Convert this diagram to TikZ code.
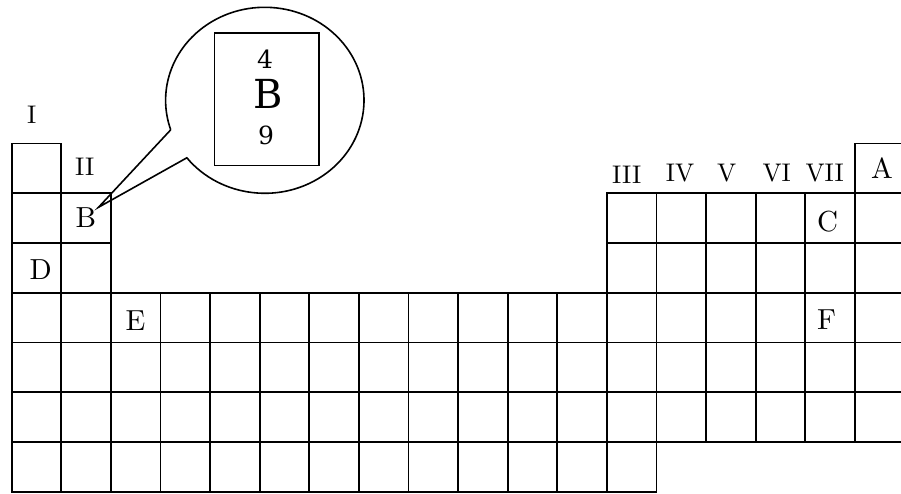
\documentclass[tikz,border=0pt]{standalone}
\usepackage{fontspec}
\newfontfamily\bubblefont{DejaVu Serif}
\newfontfamily\lblfont{lmroman10-regular}[Extension=.otf]
\begin{document}
\begin{tikzpicture}[x=1pt,y=1pt,
  cell/.style={draw, line width=1.7pt, minimum width=49.6pt, minimum height=49.74pt, inner sep=0pt, outer sep=0pt, anchor=north west},
  lbl/.style={font=\lblfont\fontsize{29}{29}\selectfont, inner sep=0pt},
  grp/.style={font=\lblfont\fontsize{25.5}{25.5}\selectfont, inner sep=0pt},
  bub/.style={line width=1.6pt},
  btxt/.style={inner sep=0pt, font=\bubblefont\fontsize{25}{25}\selectfont}]
\fill[white] (0,0) rectangle (901,494);
\useasboundingbox (0,0) rectangle (901,494);
% grid cells
\foreach \r/\c in {0/0,0/17,1/0,1/1,2/0,2/1}
  \node[cell] (c\r-\c) at ({11.7+49.6*\c},{350.5-49.74*\r}) {};
\foreach \r in {1,2} \foreach \c in {12,...,17}
  \node[cell] (c\r-\c) at ({11.7+49.6*\c},{350.5-49.74*\r}) {};
\foreach \r in {3,4,5} \foreach \c in {0,...,17}
  \node[cell] (c\r-\c) at ({11.7+49.6*\c},{350.5-49.74*\r}) {};
\foreach \c in {0,...,12}
  \node[cell] (c6-\c) at ({11.7+49.6*\c},{350.5-49.74*6}) {};
% group labels
\node[grp] (gI) at (31.7,379) {I};
\node[grp] (gII) at (84.7,327.2) {II};
\node[grp] (gIII) at (626.7,319.5) {III};
\node[grp] (gIV) at (680,320.5) {IV};
\node[grp] (gV) at (726.7,320.5) {V};
\node[grp] (gVI) at (776.7,320.5) {VI};
\node[grp] (gVII) at (824.7,320.5) {VII};
% element letters
\node[lbl] (lA) at (882,325.7) {A};
\node[lbl] (lB) at (86,276) {B};
\node[lbl] (lC) at (827.5,272) {C};
\node[lbl] (lD) at (40.7,224.7) {D};
\node[lbl] (lE) at (135.5,173) {E};
\node[lbl] (lF) at (826.7,174) {F};
% callout bubble
\coordinate (ctr) at (264.8,393.7);
\coordinate (tip) at (98.5,286.7);
\path (ctr) ++(198.5:99.2 and 93) coordinate (p1);
\path (ctr) ++(218.2:99.2 and 93) coordinate (p2);
\draw[bub, line join=miter] (p1) -- (tip) -- (p2) arc[start angle=218.2, end angle=558.5, x radius=99.2, y radius=93];
\node[draw, bub, minimum width=104.7pt, minimum height=132.4pt, inner sep=0pt] (elem) at (266.65,394.5) {};
\node[btxt] (zn) at (265,435.2) {4};
\node[btxt, font=\bubblefont\fontsize{40}{40}\selectfont] (sym) at (268,400.2) {B};
\node[btxt] (mass) at (266,359) {9};
\end{tikzpicture}
\end{document}
